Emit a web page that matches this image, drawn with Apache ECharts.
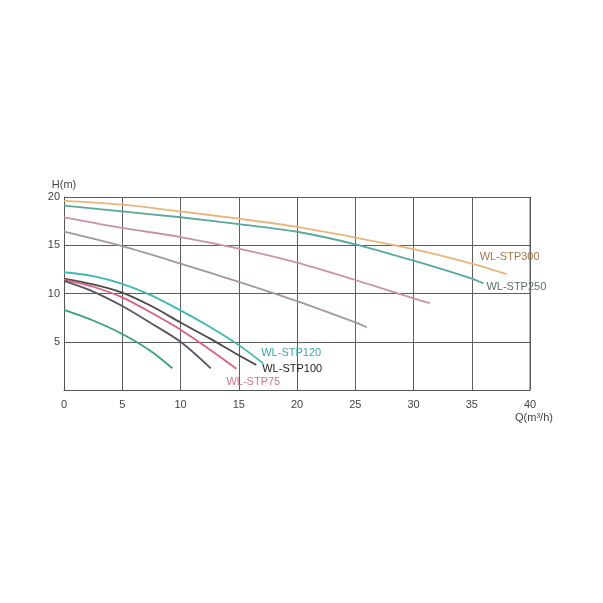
<!DOCTYPE html>
<html><head><meta charset="utf-8">
<script src="https://cdn.jsdelivr.net/npm/echarts@6/dist/echarts.min.js"></script>
<style>html,body{margin:0;padding:0;background:#fff}#c{width:603px;height:603px}</style>
</head><body><div id="c"></div>
<script>
const xTicks = [0,5,10,15,20,25,30,35,40];
const yTicks = [0,5,10,15,20];

const q300 = [0,5,10,15,20,25,30,35,38];
const h300 = [19.6,19.2,18.5,17.75,16.9,15.8,14.6,13.1,12.0];
const q250 = [0,5,10,15,20,25,30,35,36];
const h250 = [19.1,18.5,17.9,17.2,16.4,15.1,13.4,11.55,11.05];
const qPink = [0,5,10,15,20,25,30,31.4];
const hPink = [17.9,16.8,15.85,14.65,13.2,11.4,9.5,9.0];
const qGray = [0,5,10,15,20,25,26];
const hGray = [16.4,14.9,13.1,11.2,9.2,7.0,6.5];
const q120 = [0,2.5,5,7.5,10,12.5,15,17.1];
const h120 = [12.2,11.8,11.0,9.8,8.25,6.55,4.65,2.76];
const q100 = [0,2.5,5,7.5,10,12.5,15,16.5];
const h100 = [11.55,10.95,10.1,8.7,7.0,5.35,3.6,2.6];
const q75 = [0,2.5,5,7.5,10,12.5,14.8];
const h75 = [11.45,10.7,9.6,8.0,6.25,4.2,2.2];
const qDark = [0,2.5,5,7.5,10,12.6];
const hDark = [11.3,10.2,8.7,6.9,5.0,2.25];
const qGreen = [0,2.5,5,7.5,9.3];
const hGreen = [8.3,7.2,5.8,4.0,2.25];

function pts(q,h){return q.map((v,i)=>[v,h[i]]);}
function ser(name,q,h,color,label,labelColor,offset){
  const s = {name:name,type:'line',smooth:0.3,showSymbol:false,data:pts(q,h),
    lineStyle:{color:color,width:1.8},itemStyle:{color:color},z:2};
  if(label){
    s.endLabel={show:true,formatter:label,color:labelColor,fontSize:11,
      fontFamily:'Liberation Sans, Arial, sans-serif',distance:0,offset:offset,align:'left',verticalAlign:'middle'};
  }
  return s;
}
const chart = echarts.init(document.getElementById('c'));
chart.setOption({
  animation:false,
  backgroundColor:'#fff',
  grid:{left:64,right:73,top:197,bottom:213,show:false},
  xAxis:{type:'value',min:0,max:40,interval:5,
    axisLine:{show:true,lineStyle:{color:'#555',width:1}},
    axisTick:{show:false},
    splitLine:{show:true,lineStyle:{color:'#5e5e5e',width:1}},
    axisLabel:{color:'#444',fontSize:11,margin:9,fontFamily:'Liberation Sans, Arial, sans-serif',
      formatter:v=>xTicks.includes(v)?String(v):''},
    name:'Q(m³/h)',nameLocation:'end',nameGap:4,
    nameTextStyle:{color:'#444',fontSize:11,align:'center',verticalAlign:'top',padding:[22,0,0,0],fontFamily:'Liberation Sans, Arial, sans-serif'}
  },
  yAxis:{type:'value',min:0,max:20,interval:5,
    axisLine:{show:true,lineStyle:{color:'#555',width:1}},
    axisTick:{show:false},
    splitLine:{show:true,lineStyle:{color:'#5e5e5e',width:1}},
    axisLabel:{color:'#444',fontSize:11,margin:4,fontFamily:'Liberation Sans, Arial, sans-serif',
      formatter:v=>yTicks.includes(v)&&v!==0?String(v):''},
    name:'H(m)',nameLocation:'end',nameGap:7,
    nameTextStyle:{color:'#444',fontSize:11,fontFamily:'Liberation Sans, Arial, sans-serif'}
  },
  series:[
    {type:'line',data:[[40,0],[40,20]],showSymbol:false,silent:true,lineStyle:{color:'#5e5e5e',width:1},z:1},
    ser('WL-STP300',q300,h300,'#eab57c','WL-STP300','#a07848',[-27,-17]),
    ser('WL-STP250',q250,h250,'#5aa89a','WL-STP250','#5e6e6e',[3,4]),
    ser('pink',qPink,hPink,'#c992a8'),
    ser('gray',qGray,hGray,'#a4979f'),
    ser('WL-STP120',q120,h120,'#3fb8b0','WL-STP120','#3ea8a2',[-2,-10]),
    ser('WL-STP100',q100,h100,'#4a4a4a','WL-STP100','#222',[6,4]),
    ser('WL-STP75',q75,h75,'#d8607e','WL-STP75','#d2738e',[-10,13]),
    ser('dark',qDark,hDark,'#5a5560'),
    ser('green',qGreen,hGreen,'#3aa07a')
  ]
});
</script></body></html>
